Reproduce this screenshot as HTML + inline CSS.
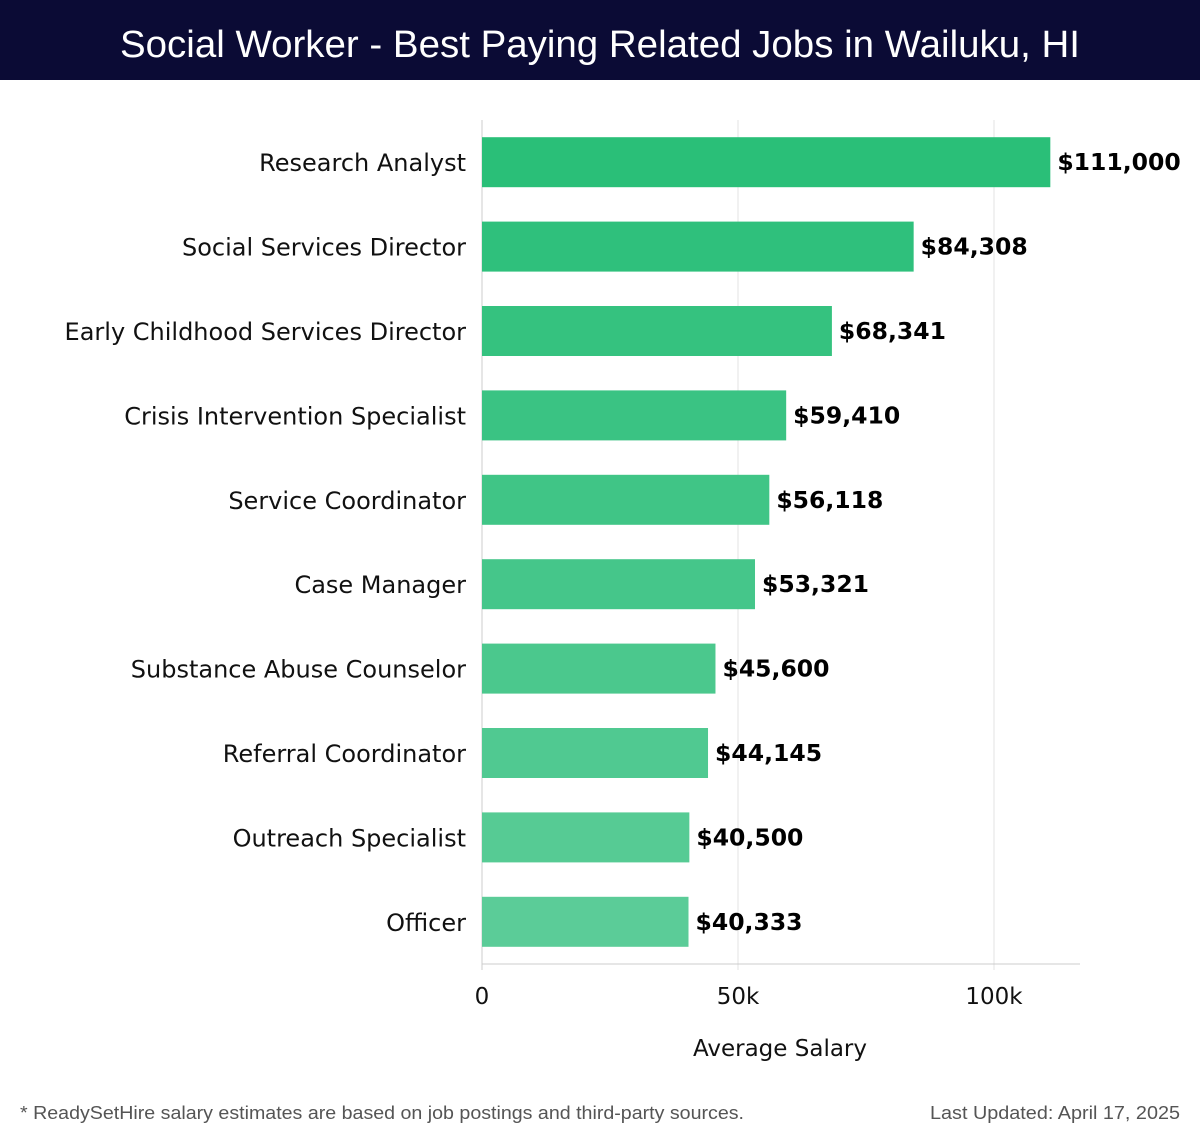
<!DOCTYPE html>
<html><head><meta charset="utf-8"><style>
body{margin:0;background:#fff;width:1200px;height:1140px;overflow:hidden;font-family:"DejaVu Sans","Liberation Sans",sans-serif}
</style></head><body>
<svg id="c" width="1200" height="1140" xmlns="http://www.w3.org/2000/svg">
<rect x="0" y="0" width="1200" height="80" fill="#0b0b35"/>
<text x="600" y="57" text-anchor="middle" fill="#fff" font-family="Liberation Sans, sans-serif" font-size="38" textLength="960" lengthAdjust="spacingAndGlyphs">Social Worker - Best Paying Related Jobs in Wailuku, HI</text>
<g id="grid"></g><g id="bars"></g><g id="axis"></g>
<text x="780" y="1056" text-anchor="middle" font-size="23" fill="#111">Average Salary</text>
<text x="20" y="1119" font-size="18" fill="#555" font-family="Liberation Sans, sans-serif" textLength="724" lengthAdjust="spacingAndGlyphs">* ReadySetHire salary estimates are based on job postings and third-party sources.</text>
<text x="930" y="1119" font-size="18" fill="#555" font-family="Liberation Sans, sans-serif" textLength="250" lengthAdjust="spacingAndGlyphs">Last Updated: April 17, 2025</text>
</svg>
<script>
const categories=["Research Analyst","Social Services Director","Early Childhood Services Director","Crisis Intervention Specialist","Service Coordinator","Case Manager","Substance Abuse Counselor","Referral Coordinator","Outreach Specialist","Officer"];
const values=[111000,84308,68341,59410,56118,53321,45600,44145,40500,40333];
const tickValues=[0,50000,100000];
const tickLabels=["0","50k","100k"];
const NS="http://www.w3.org/2000/svg";
const x0=482,pxPer=256/50000,plotTop=120,plotBottom=964,band=(plotBottom-plotTop)/categories.length,bh=50;
const xs=v=>x0+v*pxPer;
const yc=i=>plotTop+band*(i+0.5);
function mk(t,a,p){const e=document.createElementNS(NS,t);for(const k in a)e.setAttribute(k,a[k]);p.appendChild(e);return e;}
const grid=document.getElementById('grid'),bars=document.getElementById('bars'),axis=document.getElementById('axis');
tickValues.forEach((v,i)=>{
 const l=mk('line',{x1:xs(v),x2:xs(v),y1:plotTop,y2:plotBottom+6,stroke:i==0?'#ccc':'#e3e3e3','stroke-width':1},grid);
 
 
 const t=mk('text',{x:xs(v),y:1004,'text-anchor':'middle','font-size':23,fill:'#111'},axis);
 t.textContent=tickLabels[i];
 
 
});
const bl=mk('line',{x1:x0,x2:1080,y1:plotBottom,y2:plotBottom,stroke:'#ccc'},axis);


const c1=[42,191,120],c2=[91,204,152];
categories.forEach((c,i)=>{
 const f=i/(categories.length-1);
 const col='rgb('+c1.map((v,k)=>Math.round(v+(c2[k]-v)*f)).join(',')+')';
 const r=mk('rect',{x:x0,y:yc(i)-bh/2,width:xs(values[i])-x0,height:bh,fill:col},bars);
 
 
 const lb=mk('text',{x:466,y:yc(i)+9,'text-anchor':'end','font-size':24,fill:'#111'},bars);
 lb.textContent=c;
 
 
 const vl=mk('text',{x:xs(values[i])+7,y:yc(i)+8,'font-size':23.5,'font-weight':'bold',fill:'#000'},bars);
 vl.textContent='$'+values[i].toLocaleString('en-US');
 
 
});
</script>
</body></html>
